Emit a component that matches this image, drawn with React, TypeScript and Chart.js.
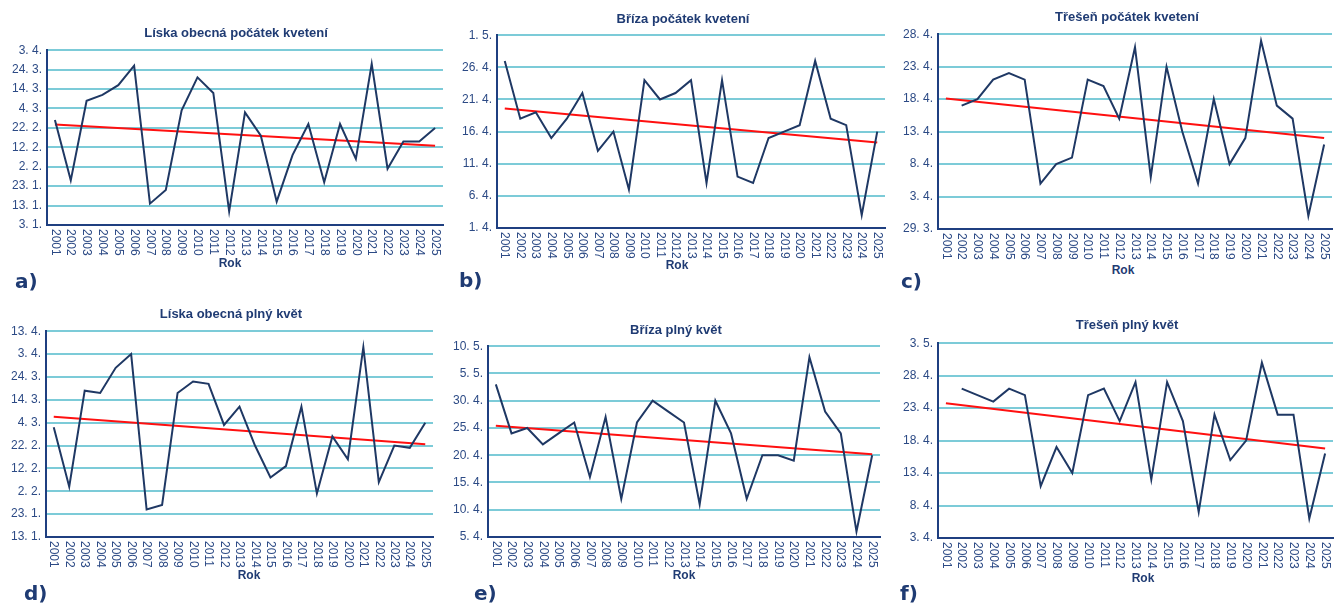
import React, { useEffect, useRef } from "react";
import { Chart, registerables } from "chart.js";

Chart.register(...registerables);

// ---------- data ----------
const years = [
  "2001", "2002", "2003", "2004", "2005", "2006", "2007", "2008", "2009", "2010",
  "2011", "2012", "2013", "2014", "2015", "2016", "2017", "2018", "2019", "2020",
  "2021", "2022", "2023", "2024", "2025",
];

// values are day-of-year (non-leap)
const liskaStart = [57, 26, 67, 70, 75, 85, 14, 21, 62, 79, 71, 10, 61, 49, 15, 39, 55, 25, 55, 37, 86, 32, 46, 46, 53];
const brizaStart = [117, 108, 109, 105, 108, 112, 103, 106, 97, 114, 111, 112, 114, 98, 114, 99, 98, 105, 106, 107, 117, 108, 107, 93, 106];
const tresenStart = [null, 107, 108, 111, 112, 111, 95, 98, 99, 111, 110, 105, 116, 96, 113, 103, 95, 108, 98, 102, 117, 107, 105, 90, 101];
const liskaFull = [61, 35, 77, 76, 87, 93, 25, 27, 76, 81, 80, 62, 70, 53, 39, 44, 70, 32, 57, 47, 96, 37, 53, 52, 63];
const brizaFull = [123, 114, 115, 112, 114, 116, 106, 117, 102, 116, 120, 118, 116, 101, 120, 114, 102, 110, 110, 109, 128, 118, 114, 96, 110];
const tresenFull = [null, 116, 115, 114, 116, 115, 101, 107, 103, 115, 116, 111, 117, 102, 117, 111, 97, 112, 105, 108, 120, 112, 112, 96, 106];

// trend line endpoints (2001, 2025)
const trendLiskaStart = [54.8, 43.8];
const trendBrizaStart = [109.6, 104.3];
const trendTresenStart = [108.1, 102.0];
const trendLiskaFull = [65.6, 53.6];
const trendBrizaFull = [115.4, 110.2];
const trendTresenFull = [113.75, 106.8];

// y tick labels (bottom to top)
const ticksLiskaStart = ["3. 1.", "13. 1.", "23. 1.", "2. 2.", "12. 2.", "22. 2.", "4. 3.", "14. 3.", "24. 3.", "3. 4."];
const ticksBrizaStart = ["1. 4.", "6. 4.", "11. 4.", "16. 4.", "21. 4.", "26. 4.", "1. 5."];
const ticksTresenStart = ["29. 3.", "3. 4.", "8. 4.", "13. 4.", "18. 4.", "23. 4.", "28. 4."];
const ticksLiskaFull = ["13. 1.", "23. 1.", "2. 2.", "12. 2.", "22. 2.", "4. 3.", "14. 3.", "24. 3.", "3. 4.", "13. 4."];
const ticksBrizaFull = ["5. 4.", "10. 4.", "15. 4.", "20. 4.", "25. 4.", "30. 4.", "5. 5.", "10. 5."];
const ticksTresenFull = ["3. 4.", "8. 4.", "13. 4.", "18. 4.", "23. 4.", "28. 4.", "3. 5."];

const titles = [
  "Líska obecná počátek kvetení",
  "Bříza počátek kvetení",
  "Třešeň počátek kvetení",
  "Líska obecná plný květ",
  "Bříza plný květ",
  "Třešeň plný květ",
];
const letters = ["a)", "b)", "c)", "d)", "e)", "f)"];
const axisTitle = "Rok";

// ---------- styling / layout ----------
const NAVY = "#1f3864";
const AXIS = "#1f3f80";
const TEXT = "#2c4a85";
const TITLE = "#1f3b73";
const GRID = "#7ccbd8";
const RED = "#ff1010";
const FONT = "'Liberation Sans', Arial, sans-serif";

const Y_W = 46;
const PAD_TOP = 10;
const PAD_RIGHT = 4;
const X_H = 34;

type Panel = {
  title: string;
  letter: string;
  values: (number | null)[];
  trend: number[];
  ticks: string[];
  min: number;
  step: number;
  plot: [number, number, number, number]; // left, top, right, bottom
  titlePos: [number, number];
  rokPos: [number, number];
  letterPos: [number, number];
};

const panels: Panel[] = [
  { title: titles[0], letter: letters[0], values: liskaStart, trend: trendLiskaStart, ticks: ticksLiskaStart, min: 3, step: 10,
    plot: [47, 48, 443, 225], titlePos: [236, 32], rokPos: [230, 263], letterPos: [15, 281] },
  { title: titles[1], letter: letters[1], values: brizaStart, trend: trendBrizaStart, ticks: ticksBrizaStart, min: 91, step: 5,
    plot: [497, 33, 885, 228], titlePos: [683, 18], rokPos: [677, 265], letterPos: [459, 280] },
  { title: titles[2], letter: letters[2], values: tresenStart, trend: trendTresenStart, ticks: ticksTresenStart, min: 88, step: 5,
    plot: [938, 32, 1332, 229], titlePos: [1127, 16], rokPos: [1123, 270], letterPos: [901, 281] },
  { title: titles[3], letter: letters[3], values: liskaFull, trend: trendLiskaFull, ticks: ticksLiskaFull, min: 13, step: 10,
    plot: [46, 329, 433, 537], titlePos: [231, 313], rokPos: [249, 575], letterPos: [24, 593] },
  { title: titles[4], letter: letters[4], values: brizaFull, trend: trendBrizaFull, ticks: ticksBrizaFull, min: 95, step: 5,
    plot: [488, 344, 880, 537], titlePos: [676, 329], rokPos: [684, 575], letterPos: [474, 593] },
  { title: titles[5], letter: letters[5], values: tresenFull, trend: trendTresenFull, ticks: ticksTresenFull, min: 93, step: 5,
    plot: [938, 341, 1333, 538], titlePos: [1127, 324], rokPos: [1143, 578], letterPos: [900, 593] },
];

const yearLabelPlugin = {
  id: "yearLabels",
  afterDraw(chart: any) {
    const xs = chart.scales.x;
    const ctx = chart.ctx;
    ctx.save();
    ctx.font = `12px ${FONT}`;
    ctx.fillStyle = TEXT;
    ctx.textAlign = "left";
    ctx.textBaseline = "middle";
    const labels: string[] = chart.data.labels;
    labels.forEach((lab, i) => {
      const x = xs.getPixelForValue(i);
      ctx.save();
      ctx.translate(x, chart.chartArea.bottom + 4);
      ctx.rotate(Math.PI / 2);
      ctx.fillText(lab, 0, 0);
      ctx.restore();
    });
    ctx.restore();
  },
};

function PanelChart({ p }: { p: Panel }) {
  const ref = useRef<HTMLCanvasElement>(null);
  const [pl, pt, pr, pb] = p.plot;
  const left = pl - Y_W;
  const top = pt - PAD_TOP;
  const width = pr - left + PAD_RIGHT;
  const height = pb - top + X_H;

  useEffect(() => {
    if (!ref.current) return;
    const trendData = years.map((_, i) => (i === 0 ? p.trend[0] : i === years.length - 1 ? p.trend[1] : null));
    const max = p.min + p.step * (p.ticks.length - 1);
    const chart = new Chart(ref.current, {
      type: "line",
      data: {
        labels: years,
        datasets: [
          { data: p.values, borderColor: NAVY, borderWidth: 2, pointRadius: 0, tension: 0, spanGaps: false },
          { data: trendData, borderColor: RED, borderWidth: 2, pointRadius: 0, tension: 0, spanGaps: true },
        ],
      },
      options: {
        animation: false,
        responsive: false,
        devicePixelRatio: 1,
        layout: { padding: { top: PAD_TOP, right: PAD_RIGHT, left: 0, bottom: 0 } },
        plugins: { legend: { display: false }, tooltip: { enabled: false }, title: { display: false } },
        scales: {
          x: {
            type: "category",
            offset: true,
            grid: { display: false },
            border: { display: true, color: AXIS, width: 2 },
            ticks: { display: false },
            afterFit: (s: any) => { s.height = X_H; },
          },
          y: {
            min: p.min,
            max,
            grid: { color: GRID, lineWidth: 2, drawTicks: false },
            border: { display: true, color: AXIS, width: 2 },
            ticks: {
              stepSize: p.step,
              color: TEXT,
              padding: 5,
              autoSkip: false,
              font: { family: FONT, size: 12 },
              callback: (_v: any, i: number) => p.ticks[i],
            },
            afterFit: (s: any) => { s.width = Y_W; },
          },
        },
      },
      plugins: [yearLabelPlugin],
    } as any);
    return () => chart.destroy();
  }, []);

  return (
    <canvas
      ref={ref}
      width={width}
      height={height}
      style={{ position: "absolute", left, top, width, height }}
    />
  );
}

export default function App() {
  return (
    <div style={{ position: "absolute", left: 0, top: 0, width: 1338, height: 603, background: "#fff", fontFamily: FONT }}>
      {panels.map((p, i) => (
        <React.Fragment key={i}>
          <PanelChart p={p} />
          <div style={{ position: "absolute", left: p.titlePos[0], top: p.titlePos[1], transform: "translate(-50%,-50%)", whiteSpace: "nowrap", fontWeight: "bold", fontSize: 13, color: TITLE }}>
            {p.title}
          </div>
          <div style={{ position: "absolute", left: p.rokPos[0], top: p.rokPos[1], transform: "translate(-50%,-50%)", fontWeight: "bold", fontSize: 12, color: TITLE }}>
            {axisTitle}
          </div>
          <div style={{ position: "absolute", left: p.letterPos[0], top: p.letterPos[1], transform: "translateY(-50%)", fontWeight: "bold", fontSize: 20, color: TITLE, fontFamily: "'DejaVu Sans', sans-serif" }}>
            {p.letter}
          </div>
        </React.Fragment>
      ))}
    </div>
  );
}
